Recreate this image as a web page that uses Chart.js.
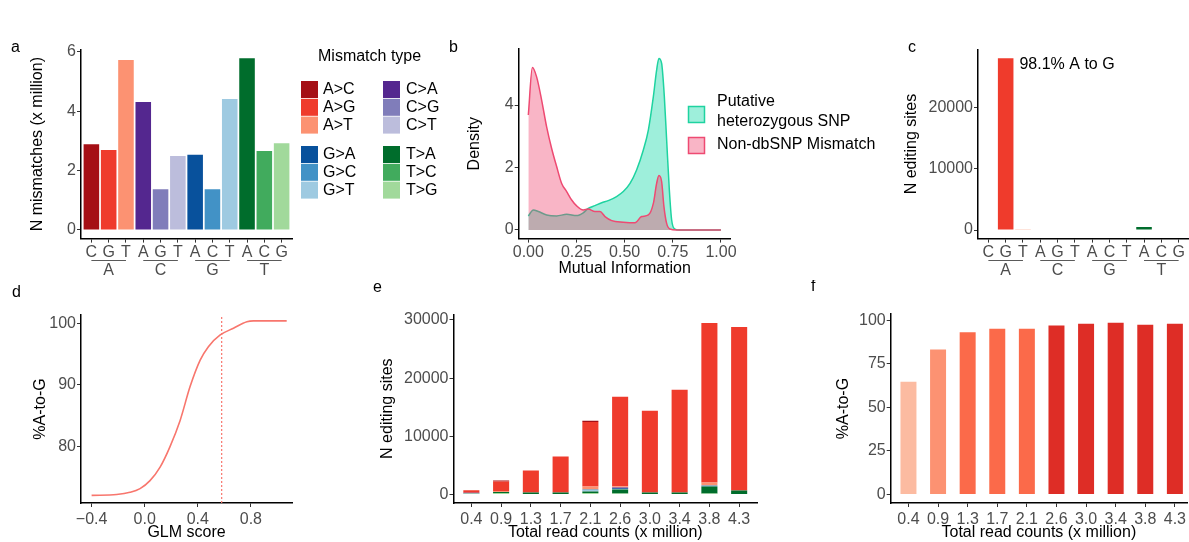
<!DOCTYPE html>
<html><head><meta charset="utf-8">
<script src="https://cdn.jsdelivr.net/npm/chart.js@4.4.1/dist/chart.umd.min.js"></script>
<style>
html,body{margin:0;padding:0;background:#fff;}
body{width:1189px;height:542px;position:relative;overflow:hidden;}
canvas{position:absolute;}
</style></head><body>
<script>
// ================= DATA =================
// panel a / c / e : mismatch types
const mismatchTypes = ['A>C','A>G','A>T','C>A','C>G','C>T','G>A','G>C','G>T','T>A','T>C','T>G'];
const mismatchColors = ['#A50F15','#EF3B2C','#FC9272','#54278F','#807DBA','#BCBDDC','#08519C','#4292C6','#9ECAE1','#006D2C','#41AB5D','#A1D99B'];
const refBases = ['A','C','G','T'];
const altBases = ['C','G','T','A','G','T','A','C','T','A','C','G'];
const mismatchMillions = [2.89, 2.69, 5.72, 4.31, 1.37, 2.49, 2.53, 1.37, 4.41, 5.78, 2.66, 2.92];
const mismatchTicks = [0, 2, 4, 6];

// panel b : density of mutual information
const miTicks = [0, 0.25, 0.5, 0.75, 1];
const densityTicks = [0, 2, 4];
const snpMI      = [0, 0.026, 0.052, 0.095, 0.147, 0.199, 0.251, 0.285, 0.311, 0.346, 0.381, 0.415, 0.458, 0.493, 0.528, 0.562, 0.597, 0.623, 0.649, 0.666, 0.678, 0.692, 0.706, 0.718, 0.732, 0.744, 0.761, 0.787, 1.0];
const snpDensity = [0.45, 0.64, 0.59, 0.48, 0.45, 0.50, 0.46, 0.55, 0.69, 0.78, 0.87, 0.94, 1.07, 1.23, 1.49, 1.92, 2.56, 3.2, 4.27, 5.12, 5.49, 5.33, 4.27, 2.88, 1.28, 0.32, 0.03, 0, 0];
const mmMI       = [0, 0.021, 0.043, 0.069, 0.095, 0.121, 0.147, 0.173, 0.199, 0.225, 0.251, 0.285, 0.311, 0.346, 0.372, 0.398, 0.433, 0.493, 0.554, 0.588, 0.623, 0.649, 0.666, 0.678, 0.692, 0.704, 0.718, 0.735, 0.77, 1.0];
const mmDensity  = [3.68, 5.2, 4.9, 4.16, 3.3, 2.61, 2.03, 1.49, 1.23, 0.96, 0.77, 0.64, 0.67, 0.59, 0.59, 0.43, 0.30, 0.25, 0.23, 0.43, 0.48, 0.85, 1.49, 1.74, 1.55, 0.75, 0.21, 0.03, 0, 0];
const densityLabels = [['Putative', 'heterozygous SNP'], ['Non-dbSNP Mismatch']];

// panel c : editing sites per mismatch type
const editingSites = [0, 28000, 50, 0, 0, 0, 0, 0, 0, 500, 0, 0];
const editingTicks = [0, 10000, 20000];
const editingNote = '98.1% A to G';

// panel d : %A-to-G vs GLM score
const glmScore = [-0.4, -0.211, -0.111, -0.035, 0.04, 0.116, 0.19, 0.267, 0.342, 0.418, 0.48, 0.569, 0.669, 0.77, 0.82, 1.07];
const pctAtoG  = [72.0, 72.15, 72.5, 73.1, 74.4, 76.6, 79.9, 84.2, 89.7, 94.0, 96.2, 98.1, 99.2, 100.26, 100.4, 100.4];
const glmThreshold = 0.58;
const glmTicks = [-0.4, 0, 0.4, 0.8];
const pctTicks = [80, 90, 100];

// panel e : editing sites by read depth (stacked by mismatch type)
const readCounts = ['0.4','0.9','1.3','1.7','2.1','2.6','3.0','3.4','3.8','4.3'];
const sitesAC = [0, 170, 0, 0, 230, 0, 0, 0, 0, 0];
const sitesAG = [430, 1650, 3770, 6170, 11090, 15380, 14060, 17660, 27450, 28110];
const sitesAT = [0, 170, 0, 0, 510, 230, 0, 0, 510, 0];
const sitesCA = [60, 0, 0, 0, 0, 120, 0, 0, 0, 0];
const sitesCG = [0, 0, 0, 0, 0, 0, 0, 0, 0, 0];
const sitesCT = [0, 0, 0, 0, 0, 0, 0, 0, 0, 0];
const sitesGA = [60, 0, 0, 0, 0, 120, 0, 0, 0, 0];
const sitesGC = [0, 0, 0, 0, 170, 0, 0, 0, 170, 0];
const sitesGT = [0, 0, 0, 0, 170, 100, 0, 0, 0, 0];
const sitesTA = [0, 170, 340, 340, 290, 680, 340, 340, 1200, 690];
const sitesTC = [0, 0, 0, 0, 0, 0, 0, 0, 0, 0];
const sitesTG = [150, 230, 0, 0, 230, 170, 0, 0, 170, 0];
const sitesSeries = [sitesAC, sitesAG, sitesAT, sitesCA, sitesCG, sitesCT, sitesGA, sitesGC, sitesGT, sitesTA, sitesTC, sitesTG];
const sitesTicks = [0, 10000, 20000, 30000];

// panel f : %A-to-G by read depth
const pctByDepth = [64.8, 83.2, 93.1, 95.2, 95.2, 97.1, 98.1, 98.7, 97.5, 98.1];
const depthColors = ['#FCBBA1','#FC9272','#FB6A4A','#FB6A4A','#FB6A4A','#DE2D26','#DE2D26','#DE2D26','#DE2D26','#DE2D26'];
const pctDepthTicks = [0, 25, 50, 75, 100];

// ================= STYLE / HELPERS =================
const FONT = "'Liberation Sans', Arial, Helvetica, sans-serif";
const TICK_COLOR = '#4D4D4D';
const FS = 16;
Chart.defaults.font.family = FONT;
Chart.defaults.font.size = FS;
Chart.defaults.color = TICK_COLOR;

function makeCanvas(left, top, w, h) {
  const c = document.createElement('canvas');
  c.width = w; c.height = h;
  c.style.left = left + 'px'; c.style.top = top + 'px';
  c.style.width = w + 'px'; c.style.height = h + 'px';
  document.body.appendChild(c);
  return c.getContext('2d');
}

function axis(pos, o) {
  return {
    type: 'linear', position: pos, min: o.min, max: o.max, bounds: 'data', offset: false,
    afterBuildTicks: s => { s.ticks = o.ticks.map(v => ({ value: v })); },
    afterFit: s => { if (pos === 'left') s.width = o.size; else s.height = o.size; },
    ticks: {
      color: TICK_COLOR, font: { size: FS, family: FONT }, padding: o.pad === undefined ? 1 : o.pad,
      autoSkip: false, maxRotation: 0, minRotation: 0,
      callback: o.fmt || (v => String(v))
    },
    grid: { display: true, drawOnChartArea: false, drawTicks: true, tickLength: 4, color: '#333333', lineWidth: 1, offset: false },
    border: { display: true, color: '#000000', width: 1.5 },
    title: { display: !!o.title, text: o.title || '', color: '#000000', font: { size: FS, family: FONT, lineHeight: 1.2 }, padding: 0 }
  };
}

const panelLabel = {
  id: 'panelLabel',
  afterDraw(chart, args, o) {
    if (!o || !o.text) return;
    const ctx = chart.ctx;
    ctx.save();
    ctx.font = FS + 'px ' + FONT; ctx.fillStyle = '#000'; ctx.textAlign = 'left'; ctx.textBaseline = 'alphabetic';
    ctx.fillText(o.text, o.x, o.y);
    ctx.restore();
  }
};

const groupAxis = {
  id: 'groupAxis',
  afterDraw(chart, args, o) {
    if (!o || !o.enabled) return;
    const { ctx, chartArea } = chart;
    const x = chart.scales.x;
    ctx.save();
    ctx.strokeStyle = '#5a5a5a'; ctx.lineWidth = 1.2;
    ctx.fillStyle = TICK_COLOR; ctx.font = FS + 'px ' + FONT;
    ctx.textAlign = 'center'; ctx.textBaseline = 'middle';
    refBases.forEach((b, gi) => {
      const x1 = x.getPixelForValue(gi * 3), x2 = x.getPixelForValue(gi * 3 + 2);
      const ly = Math.round(chartArea.bottom + 21.4) + 0.5;
      ctx.beginPath(); ctx.moveTo(x1, ly); ctx.lineTo(x2, ly); ctx.stroke();
      ctx.fillText(b, (x1 + x2) / 2, chartArea.bottom + 32);
    });
    ctx.restore();
  }
};

function baseOptions(pad) {
  return {
    responsive: false, animation: false, devicePixelRatio: 1,
    layout: { padding: pad, autoPadding: false },
    plugins: { legend: { display: false }, tooltip: { enabled: false } }
  };
}

// ================= PANEL a =================
(function () {
  const ctx = makeCanvas(0, 0, 470, 290);
  const opts = baseOptions({ left: 28.4, top: 49.7, right: 178, bottom: 0 });
  opts.scales = {
    x: axis('bottom', { min: -0.6, max: 11.6, ticks: altBases.map((_, i) => i), size: 51.4, pad: 0, fmt: v => altBases[v] }),
    y: axis('left', { min: -0.29, max: 6.07, ticks: mismatchTicks, size: 52.6, title: 'N mismatches (x million)' })
  };
  opts.plugins.panelLabel = { text: 'a', x: 11, y: 52 };
  opts.plugins.groupAxis = { enabled: true };
  const legendPlugin = {
    id: 'mismatchLegend',
    afterDraw(chart) {
      const c = chart.ctx;
      c.save();
      c.font = FS + 'px ' + FONT; c.fillStyle = '#000'; c.textBaseline = 'middle'; c.textAlign = 'left';
      c.fillText('Mismatch type', 318, 57);
      const sx = [301, 383], tx = [323, 406], by = [81, 146];
      mismatchTypes.forEach((t, i) => {
        const g = Math.floor(i / 3), k = i % 3;
        const col = g % 2, blk = Math.floor(g / 2);
        const y = by[blk] + k * 17.8;
        c.fillStyle = mismatchColors[i];
        c.fillRect(sx[col], y, 17, 17);
        c.fillStyle = '#000';
        c.fillText(t, tx[col], y + 8.8);
      });
      c.restore();
    }
  };
  new Chart(ctx, {
    type: 'bar',
    data: { datasets: [{
      data: mismatchMillions.map((v, i) => ({ x: i, y: v })),
      backgroundColor: mismatchColors, barPercentage: 0.9, categoryPercentage: 1, borderWidth: 0
    }] },
    options: opts,
    plugins: [panelLabel, groupAxis, legendPlugin]
  });
})();

// ================= PANEL b =================
(function () {
  const ctx = makeCanvas(440, 0, 450, 278);
  const opts = baseOptions({ left: 25.4, top: 48.8, right: 159.4, bottom: 0 });
  opts.scales = {
    x: axis('bottom', { min: -0.05, max: 1.05, ticks: miTicks, size: 39.4, pad: 0, title: 'Mutual Information', fmt: v => v.toFixed(2) }),
    y: axis('left', { min: -0.276, max: 5.8, ticks: densityTicks, size: 53.3, title: 'Density' })
  };
  opts.plugins.panelLabel = { text: 'b', x: 9, y: 52 };
  const teal = '#1ED3A0', tealFill = 'rgba(0, 214, 160, 0.38)';
  const pink = '#EE4A72', pinkFill = 'rgba(240, 60, 105, 0.38)';
  const legendPlugin = {
    id: 'densLegend',
    afterDraw(chart) {
      const c = chart.ctx;
      c.save();
      c.lineWidth = 1.5;
      c.fillStyle = tealFill; c.fillRect(248.5, 106.5, 16, 16);
      c.strokeStyle = teal; c.strokeRect(248.5, 106.5, 16, 16);
      c.fillStyle = pinkFill; c.fillRect(248.5, 137.5, 16, 16);
      c.strokeStyle = pink; c.strokeRect(248.5, 137.5, 16, 16);
      c.font = FS + 'px ' + FONT; c.fillStyle = '#000'; c.textBaseline = 'middle'; c.textAlign = 'left';
      c.fillText(densityLabels[0][0], 277, 102);
      c.fillText(densityLabels[0][1], 277, 122);
      c.fillText(densityLabels[1][0], 277, 145);
      c.restore();
    }
  };
  new Chart(ctx, {
    type: 'scatter',
    data: { datasets: [
      { label: densityLabels[1][0], data: mmMI.map((x, i) => ({ x, y: mmDensity[i] })), showLine: true, pointRadius: 0,
        borderColor: pink, borderWidth: 1.5, backgroundColor: pinkFill, fill: 'origin', cubicInterpolationMode: 'monotone' },
      { label: densityLabels[0].join(' '), data: snpMI.map((x, i) => ({ x, y: snpDensity[i] })), showLine: true, pointRadius: 0,
        borderColor: teal, borderWidth: 1.5, backgroundColor: tealFill, fill: 'origin', cubicInterpolationMode: 'monotone' }
    ] },
    options: opts,
    plugins: [panelLabel, legendPlugin]
  });
})();

// ================= PANEL c =================
(function () {
  const ctx = makeCanvas(895, 0, 294, 290);
  const opts = baseOptions({ left: 7.4, top: 49.6, right: 0, bottom: 0 });
  opts.scales = {
    x: axis('bottom', { min: -0.6, max: 11.6, ticks: altBases.map((_, i) => i), size: 51.4, pad: 0, fmt: v => altBases[v] }),
    y: axis('left', { min: -1400, max: 29400, ticks: editingTicks, size: 75.6, title: 'N editing sites' })
  };
  opts.plugins.panelLabel = { text: 'c', x: 13, y: 52 };
  opts.plugins.groupAxis = { enabled: true };
  const note = {
    id: 'note',
    afterDraw(chart) {
      const c = chart.ctx, x = chart.scales.x, y = chart.scales.y;
      const i = editingSites.indexOf(Math.max(...editingSites));
      const half = (x.getPixelForValue(1) - x.getPixelForValue(0)) * 0.45;
      c.save();
      c.font = FS + 'px ' + FONT; c.fillStyle = '#000'; c.textBaseline = 'middle'; c.textAlign = 'left';
      c.fillText(editingNote, x.getPixelForValue(i) + half + 6, y.getPixelForValue(editingSites[i]) + 6);
      c.restore();
    }
  };
  new Chart(ctx, {
    type: 'bar',
    data: { datasets: [{
      data: editingSites.map((v, i) => ({ x: i, y: v || null })),
      backgroundColor: mismatchColors, barPercentage: 0.9, categoryPercentage: 1, borderWidth: 0
    }] },
    options: opts,
    plugins: [panelLabel, groupAxis, note]
  });
})();

// ================= PANEL d =================
(function () {
  const ctx = makeCanvas(0, 280, 320, 262);
  const opts = baseOptions({ left: 31.2, top: 35, right: 28, bottom: 0 });
  const yMin = 70.76, yMax = 101.35;
  opts.scales = {
    x: axis('bottom', { min: -0.48, max: 1.11, ticks: glmTicks, size: 39, pad: 3, title: 'GLM score',
      fmt: v => (v < 0 ? '\u2212' : '') + Math.abs(v).toFixed(1) }),
    y: axis('left', { min: yMin, max: yMax, ticks: pctTicks, size: 49.8, title: '%A-to-G' })
  };
  opts.plugins.panelLabel = { text: 'd', x: 12, y: 16.7 };
  new Chart(ctx, {
    type: 'scatter',
    data: { datasets: [
      { data: glmScore.map((x, i) => ({ x, y: pctAtoG[i] })), showLine: true, pointRadius: 0,
        borderColor: '#F8766D', borderWidth: 1.6, cubicInterpolationMode: 'monotone' },
      { data: [{ x: glmThreshold, y: yMin }, { x: glmThreshold, y: yMax }], showLine: true, pointRadius: 0,
        borderColor: '#F8766D', borderWidth: 1.2, borderDash: [2, 2] }
    ] },
    options: opts,
    plugins: [panelLabel]
  });
})();

// ================= PANEL e =================
(function () {
  const ctx = makeCanvas(360, 280, 410, 262);
  const opts = baseOptions({ left: 17.9, top: 34.3, right: 13, bottom: 0 });
  const xs = axis('bottom', { min: -0.6, max: 9.6, ticks: readCounts.map((_, i) => i), size: 39, pad: 3,
    title: 'Total read counts (x million)', fmt: v => readCounts[v] });
  xs.stacked = true;
  const ys = axis('left', { min: -1475, max: 30975, ticks: sitesTicks, size: 75.6, title: 'N editing sites' });
  ys.stacked = true;
  opts.scales = { x: xs, y: ys };
  opts.plugins.panelLabel = { text: 'e', x: 13, y: 12 };
  const datasets = mismatchTypes.map((t, i) => ({
    label: t,
    data: sitesSeries[i].map((v, j) => ({ x: j, y: v || null })),
    backgroundColor: mismatchColors[i], barPercentage: 0.54, categoryPercentage: 1, borderWidth: 0
  })).reverse();
  new Chart(ctx, { type: 'bar', data: { datasets }, options: opts, plugins: [panelLabel] });
})();

// ================= PANEL f =================
(function () {
  const ctx = makeCanvas(790, 280, 399, 262);
  const opts = baseOptions({ left: 43.7, top: 34.1, right: 0, bottom: 0 });
  opts.scales = {
    x: axis('bottom', { min: -0.6, max: 9.41, ticks: readCounts.map((_, i) => i), size: 39, pad: 3,
      title: 'Total read counts (x million)', fmt: v => readCounts[v] }),
    y: axis('left', { min: -4.935, max: 103.6, ticks: pctDepthTicks, size: 57, title: '%A-to-G' })
  };
  opts.plugins.panelLabel = { text: 'f', x: 21, y: 10.5 };
  new Chart(ctx, {
    type: 'bar',
    data: { datasets: [{
      data: pctByDepth.map((v, i) => ({ x: i, y: v })),
      backgroundColor: depthColors, barPercentage: 0.54, categoryPercentage: 1, borderWidth: 0
    }] },
    options: opts,
    plugins: [panelLabel]
  });
})();
</script>
</body></html>
